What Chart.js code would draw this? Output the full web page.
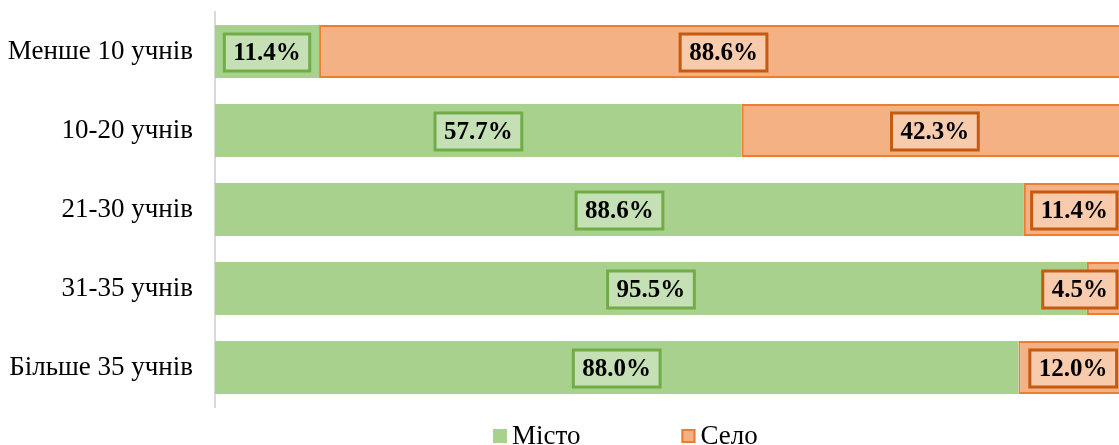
<!DOCTYPE html>
<html>
<head>
<meta charset="utf-8">
<script src="https://cdn.jsdelivr.net/npm/chart.js@4.4.1/dist/chart.umd.min.js"></script>
<style>
  html, body { margin: 0; padding: 0; background: #fff; overflow: hidden; }
  #wrap { width: 1128px; height: 445px; }
</style>
</head>
<body>
<div id="wrap"><canvas id="chart" width="1128" height="445"></canvas></div>
<script>
const categories = ['Менше 10 учнів', '10-20 учнів', '21-30 учнів', '31-35 учнів', 'Більше 35 учнів'];
const seriesNames = ['Місто', 'Село'];
const cityValues = [11.4, 57.7, 88.6, 95.5, 88.0];
const villageValues = [88.6, 42.3, 11.4, 4.5, 12.0];

const serif = '"Liberation Serif", "Times New Roman", serif';

// boxed percentage labels in the middle of each segment
const boxLabels = {
  id: 'boxLabels',
  afterDatasetsDraw(chart) {
    const ctx = chart.ctx;
    const rightLimit = chart.chartArea.right - 11;
    ctx.save();
    ctx.font = 'bold 25px ' + serif;
    ctx.textAlign = 'center';
    ctx.textBaseline = 'middle';
    chart.data.datasets.forEach((ds, di) => {
      const meta = chart.getDatasetMeta(di);
      meta.data.forEach((bar, i) => {
        const txt = ds.data[i].toFixed(1) + '%';
        const w = ctx.measureText(txt).width + 18;
        const h = 37;
        let cx = (bar.x + bar.base) / 2;
        if (cx + w / 2 > rightLimit) cx = rightLimit - w / 2;
        const x0 = cx - w / 2, y0 = bar.y - h / 2 + 1;
        ctx.fillStyle = ds.labelFill;
        ctx.fillRect(x0, y0, w, h);
        ctx.lineWidth = 3;
        ctx.strokeStyle = ds.labelBorder;
        ctx.strokeRect(x0, y0, w, h);
        ctx.fillStyle = '#000';
        ctx.fillText(txt, cx, bar.y + 2);
      });
    });
    ctx.restore();
  }
};

// legend at the bottom, drawn from the dataset styles
const bottomLegend = {
  id: 'bottomLegend',
  afterDraw(chart) {
    const ctx = chart.ctx;
    ctx.save();
    ctx.font = '27px ' + serif;
    ctx.textBaseline = 'middle';
    ctx.textAlign = 'left';
    let x = 493;
    const y = 436;
    chart.data.datasets.forEach(ds => {
      ctx.fillStyle = ds.backgroundColor;
      ctx.fillRect(x, y - 7, 14, 14);
      if (ds.borderWidth) {
        ctx.lineWidth = 2;
        ctx.strokeStyle = ds.borderColor;
        ctx.strokeRect(x + 1, y - 6, 12, 12);
      }
      ctx.fillStyle = '#000';
      ctx.fillText(ds.label, x + 19, y + 1);
      x += 19 + ctx.measureText(ds.label).width + 101;
    });
    ctx.restore();
  }
};

new Chart(document.getElementById('chart'), {
  type: 'bar',
  data: {
    labels: categories,
    datasets: [
      {
        label: seriesNames[0],
        data: cityValues,
        backgroundColor: '#A9D18E',
        borderWidth: 0,
        labelFill: '#C5E0B4',
        labelBorder: '#70AD47'
      },
      {
        label: seriesNames[1],
        data: villageValues,
        backgroundColor: '#F4B183',
        borderColor: '#ED7D31',
        borderWidth: 2,
        borderSkipped: false,
        labelFill: '#F8CBAD',
        labelBorder: '#C55A11'
      }
    ]
  },
  options: {
    indexAxis: 'y',
    responsive: false,
    animation: false,
    layout: { padding: { top: 12, bottom: 38, left: 0, right: 0 } },
    datasets: { bar: { barPercentage: 0.67, categoryPercentage: 1 } },
    plugins: {
      legend: { display: false },
      tooltip: { enabled: false }
    },
    scales: {
      x: { stacked: true, min: 0, max: 100, display: false },
      y: {
        stacked: true,
        grid: { display: false, drawTicks: false },
        border: { display: true, color: '#D9D9D9', width: 2 },
        ticks: { color: '#000', padding: 22, font: { family: serif, size: 27 } },
        afterFit(scale) {
          scale.width = 215;
          scale.paddingTop = 0;
          scale.paddingBottom = 0;
        }
      }
    }
  },
  plugins: [boxLabels, bottomLegend]
});
</script>
</body>
</html>
